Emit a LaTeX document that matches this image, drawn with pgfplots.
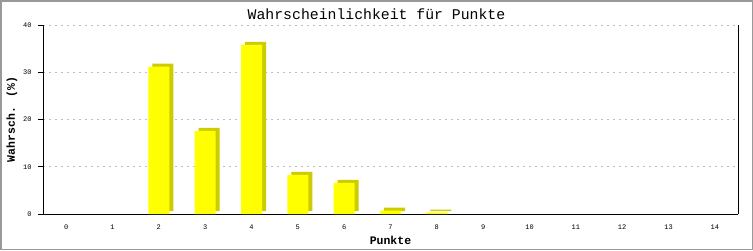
\documentclass[border=0pt]{standalone}
\usepackage{pgfplots}
\pgfplotsset{compat=1.18}
\usepackage{fontspec}
\setmainfont{Liberation Mono}
\definecolor{shadowy}{RGB}{204,204,0}
\definecolor{baryellow}{RGB}{255,255,0}
\definecolor{framegray}{RGB}{153,153,153}
\pgfplotstableread{
x y
2 31.2
3 17.6
4 35.8
5 8.3
6 6.6
7 0.7
8 0.3
}\datatable
\begin{document}
\begin{tikzpicture}[x=1pt,y=1pt]
\fill[white] (0,0) rectangle (753,250);
\draw[framegray, line width=1.5pt] (0.75,0.75) rectangle (752.25,249.25);
\begin{axis}[
  at={(43pt,36pt)}, anchor=south west,
  scale only axis, width=695pt, height=189pt,
  xmin=-0.5, xmax=14.5, ymin=0, ymax=40,
  xtick={0,...,14}, ytick={0,10,20,30,40},
  axis x line=bottom, axis y line=left,
  axis line style={-, black, line width=0.8pt},
  xtick style={draw=none},
  ytick style={black, line width=0.8pt},
  tick align=outside, major tick length=5pt,
  ymajorgrids,
  grid style={gray!50, line width=0.6pt, dash pattern=on 2pt off 4pt},
  /pgf/number format/assume math mode=true,
  tick label style={font=\fontsize{7}{8}\selectfont},
  yticklabel style={xshift=-3pt},
  xticklabel style={yshift=-2pt},
  title={Wahrscheinlichkeit für Punkte},
  title style={font=\fontsize{14.8}{16}\selectfont, at={(axis description cs:0.5,1)}, xshift=-14pt, yshift=4.5pt, anchor=center},
  xlabel={Punkte},
  xlabel style={font=\bfseries\fontsize{11.5}{13}\selectfont, at={(axis description cs:0.5,0)}, yshift=-26pt, anchor=center},
  ylabel={Wahrsch. (\%)},
  ylabel style={font=\bfseries\fontsize{11.5}{13}\selectfont, at={(axis description cs:0,0.5)}, yshift=31pt, anchor=center},
  ybar, bar width=21pt,
  clip=false,
]
\addplot[fill=shadowy, draw=none, xshift=4pt, yshift=3pt, bar shift=0pt] table[x=x,y=y] {\datatable};
\addplot[fill=baryellow, draw=none, bar shift=0pt] table[x=x,y=y] {\datatable};
\draw[black, line width=0.8pt] (axis cs:14.5,0) -- (axis cs:14.5,40);
\end{axis}
\end{tikzpicture}
\end{document}
